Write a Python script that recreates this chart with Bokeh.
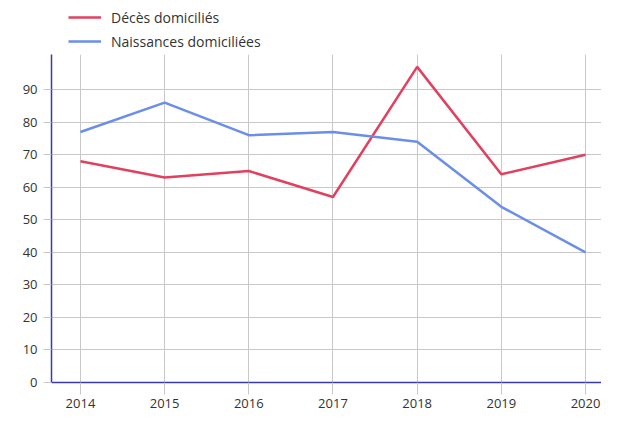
from bokeh.plotting import figure, ColumnDataSource
from bokeh.models import Legend, LegendItem, FixedTicker, Range1d
from bokeh.layouts import column
from bokeh.embed import file_html
from bokeh.resources import INLINE

years = [2014, 2015, 2016, 2017, 2018, 2019, 2020]
deces = [68, 63, 65, 57, 97, 64, 70]
naissances = [77, 86, 76, 77, 74, 54, 40]
y_ticks = [0, 10, 20, 30, 40, 50, 60, 70, 80, 90]
labels = ["Décès domiciliés", "Naissances domiciliées"]

RED = "#e2405f"
BLUE = "#6b8eea"
AXIS = "#3b3ba8"
GRID = "#c8c8c8"
FONT = "Open Sans"

# main chart
p = figure(width=601, height=357, output_backend="svg", toolbar_location=None,
           x_range=Range1d(2013.656, 2020.19), y_range=Range1d(0, 100.8),
           min_border_left=51, min_border_right=0, min_border_top=0, min_border_bottom=29)
p.outline_line_color = None
p.background_fill_color = "white"
p.border_fill_color = "white"

src = ColumnDataSource(dict(x=years, d=deces, n=naissances))
p.line("x", "d", source=src, line_color=RED, line_width=2.5)
p.line("x", "n", source=src, line_color=BLUE, line_width=2.5)

p.xaxis.ticker = FixedTicker(ticks=years)
p.yaxis.ticker = FixedTicker(ticks=y_ticks)
p.xgrid.ticker = FixedTicker(ticks=years)
p.ygrid.ticker = FixedTicker(ticks=y_ticks)
for ax in (p.xaxis[0], p.yaxis[0]):
    ax.axis_line_color = AXIS
    ax.axis_line_width = 1.5
    ax.major_tick_line_color = GRID
    ax.major_tick_line_width = 1
    ax.major_tick_in = 0
    ax.minor_tick_line_color = None
    ax.major_label_text_font = FONT
    ax.major_label_text_font_size = "13px"
    ax.major_label_text_color = "#333333"
p.xaxis.major_tick_out = 12
p.xaxis.major_label_standoff = 4
p.yaxis.major_tick_out = 8
p.yaxis.major_label_standoff = 6
p.xgrid.grid_line_color = GRID
p.ygrid.grid_line_color = GRID

# legend strip on top (same series, plotted outside this strip's visible range)
lf = figure(width=601, height=54, output_backend="svg", toolbar_location=None,
            x_range=Range1d(0, 1), y_range=Range1d(0, 1),
            x_axis_location=None, y_axis_location=None,
            min_border_left=0, min_border_right=0, min_border_top=0, min_border_bottom=0)
lf.grid.visible = False
lf.outline_line_color = None
items = []
for lab, col, key in zip(labels, [RED, BLUE], ["d", "n"]):
    rl = lf.line("x", key, source=src, line_color=col, line_width=2.5)
    items.append(LegendItem(label=lab, renderers=[rl]))
legend = Legend(items=items, location=(17, 3), orientation="vertical",
                label_text_font=FONT, label_text_font_size="14px", label_text_color="#333333",
                glyph_width=33, glyph_height=20, label_height=20, label_standoff=10,
                spacing=4, padding=0, margin=0, border_line_color=None,
                background_fill_alpha=0)
lf.add_layout(legend, "center")

layout = column(lf, p, spacing=0)
open("out.html", "w").write(file_html(layout, INLINE))
